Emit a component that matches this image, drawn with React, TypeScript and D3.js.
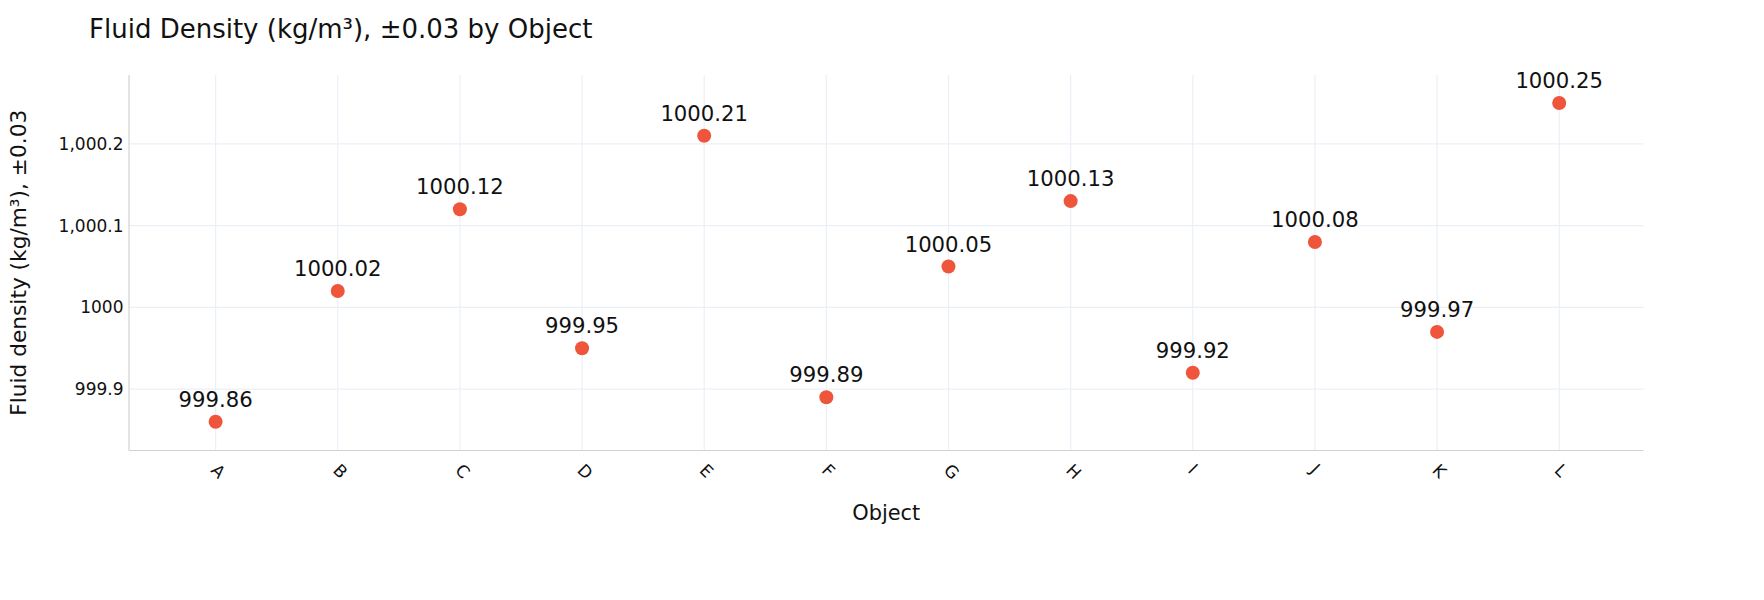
import React from "react";
import * as d3 from "d3";

const categories = ["A", "B", "C", "D", "E", "F", "G", "H", "I", "J", "K", "L"];
const densities = [999.86, 1000.02, 1000.12, 999.95, 1000.21, 999.89, 1000.05, 1000.13, 999.92, 1000.08, 999.97, 1000.25];
const yTicks = [999.9, 1000, 1000.1, 1000.2];
const yTickLabels = ["999.9", "1000", "1,000.1", "1,000.2"];

const W = 1764;
const H = 600;
const left = 129;
const right = 1643.5;
const top = 75;
const bottom = 450.5;
const FONT = "'DejaVu Sans', Verdana, sans-serif";

export default function App() {
  const x = d3.scaleLinear().domain([-0.709, 11.69]).range([left, right]);
  const y = d3.scaleLinear().domain([999.8249, 1000.2843]).range([bottom, top]);
  const grid = "#EBF0F8";
  return (
    <svg width={W} height={H} style={{ position: "absolute", left: 0, top: 0, background: "#fff" }} fontFamily={FONT}>
      <rect x={0} y={0} width={W} height={H} fill="#fff" />
      {categories.map((c, i) => (
        <line key={"gx" + c} x1={x(i)} x2={x(i)} y1={top} y2={bottom} stroke={grid} strokeWidth={1.2} />
      ))}
      {yTicks.map((t) => (
        <line key={"gy" + t} x1={left} x2={right} y1={y(t)} y2={y(t)} stroke={grid} strokeWidth={1.2} />
      ))}
      <line x1={left} x2={left} y1={top} y2={bottom} stroke="#d2d2d2" strokeWidth={1.2} />
      <line x1={left} x2={right} y1={bottom} y2={bottom} stroke="#d2d2d2" strokeWidth={1.2} />
      {yTicks.map((t, i) => (
        <text key={"yl" + t} x={left - 5.5} y={y(t)} dy="0.35em" textAnchor="end" fontSize={17} fill="#111">
          {yTickLabels[i]}
        </text>
      ))}
      {categories.map((c, i) => (
        <text
          key={"xl" + c}
          transform={`translate(${x(i) - 1.5},${bottom + 16.5}) rotate(45)`}
          textAnchor="start"
          fontSize={17}
          fill="#111"
          dy="0.35em"
        >
          {c}
        </text>
      ))}
      {densities.map((v, i) => (
        <g key={"p" + i}>
          <circle cx={x(i)} cy={y(v)} r={7} fill="#EF553B" />
          <text x={x(i)} y={y(v) - 15} textAnchor="middle" fontSize={21.2} fill="#111">
            {v.toFixed(2)}
          </text>
        </g>
      ))}
      <text x={89} y={38} fontSize={26} fill="#111">
        Fluid Density (kg/m³), ±0.03 by Object
      </text>
      <text x={(left + right) / 2} y={520} textAnchor="middle" fontSize={20.9} fill="#111">
        Object
      </text>
      <text
        transform={`translate(26,${(top + bottom) / 2}) rotate(-90)`}
        textAnchor="middle"
        fontSize={21.7}
        fill="#111"
      >
        Fluid density (kg/m³), ±0.03
      </text>
    </svg>
  );
}
